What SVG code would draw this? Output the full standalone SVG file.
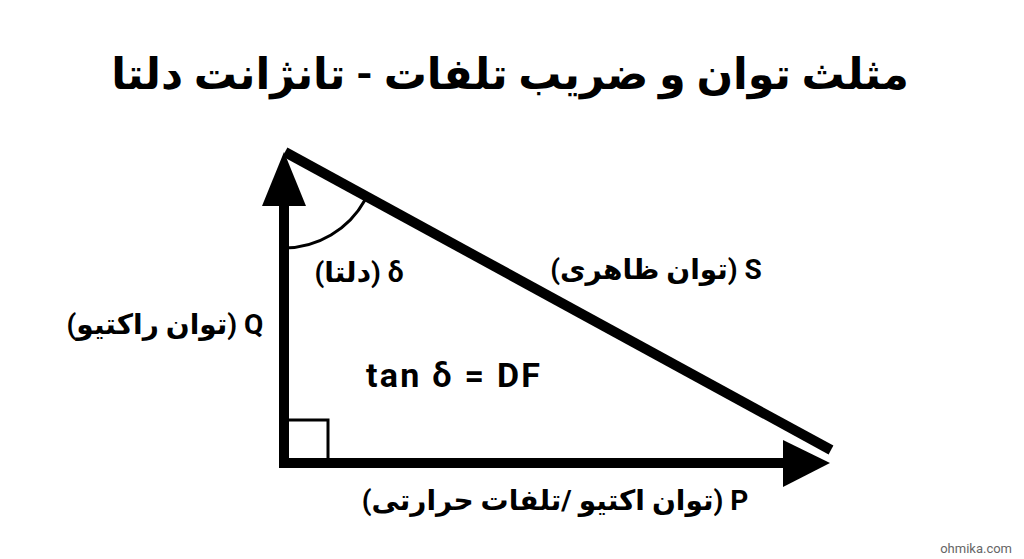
<svg xmlns="http://www.w3.org/2000/svg" width="1024" height="559" viewBox="0 0 1024 559">
<style>
.t{font-family:Roboto,"DejaVu Sans",sans-serif;font-weight:bold;fill:#000}
.lbl{font-size:28px}
.thick{stroke:#000;stroke-width:10;fill:none}
.thin{stroke:#000;stroke-width:3;fill:none}
</style>
<rect width="1024" height="559" fill="#fff"/>
<g id="title"><text class="t" x="510" y="89" font-size="43" text-anchor="middle" direction="rtl">مثلث توان و ضریب تلفات - تانژانت دلتا</text></g>
<g id="connectors">
<line class="thick" x1="284" y1="468" x2="284" y2="200"/>
<polygon points="284,152 262,206 306,206" fill="#000"/>
<line class="thick" x1="279" y1="463" x2="790" y2="463"/>
<polygon points="830,463 783,440 783,487" fill="#000"/>
<line class="thick" x1="285" y1="152" x2="831" y2="450"/>
<path class="thin" d="M284,248 A93,93 0 0 0 365,200"/>
<rect class="thin" x="284" y="420" width="44" height="43"/>
</g>
<g id="label-S"><text class="t lbl" x="656" y="279" text-anchor="middle" direction="rtl">S (توان ظاهری)</text></g>
<g id="label-delta"><text class="t lbl" x="359" y="282" font-size="30" text-anchor="middle" direction="rtl">δ (دلتا)</text></g>
<g id="label-Q"><text class="t lbl" x="165" y="334" text-anchor="middle" direction="rtl">Q (توان راکتیو)</text></g>
<g id="label-tan"><text class="t" x="366" y="387" font-size="34" textLength="174" lengthAdjust="spacing">tan δ = DF</text></g>
<g id="label-P"><text class="t lbl" x="555" y="510" text-anchor="middle" direction="rtl">P (توان اکتیو /تلفات حرارتی)</text></g>
<g id="watermark"><text x="1012" y="553" font-family="Roboto,sans-serif" font-size="13" fill="#666" text-anchor="end">ohmika.com</text></g>
</svg>
